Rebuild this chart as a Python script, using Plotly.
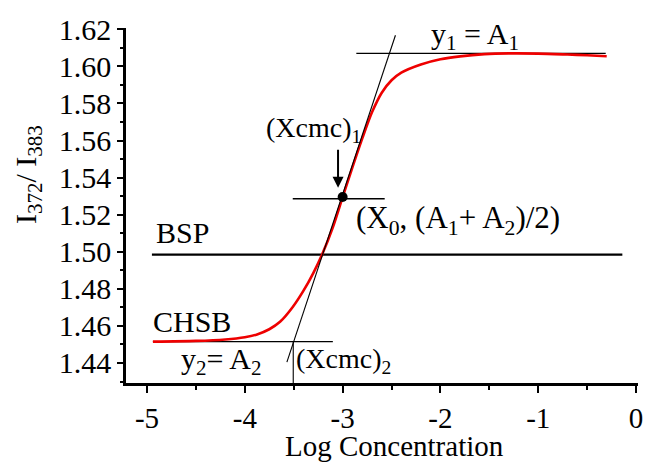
import plotly.graph_objects as go

# ---- data ----
log_conc = [-4.94, -4.5, -4.2, -4.0, -3.875, -3.75, -3.64, -3.51, -3.4, -3.3, -3.21, -3.1,
            -3.0, -2.9, -2.8, -2.7, -2.6, -2.5, -2.4, -2.2, -2.0, -1.8, -1.55, -1.3,
            -1.0, -0.7, -0.5, -0.3]
ratio = [1.4515, 1.4519, 1.4527, 1.4539, 1.4554, 1.4582, 1.4622, 1.4702, 1.4790, 1.4885,
         1.4985, 1.5132, 1.5295, 1.5455, 1.5610, 1.5752, 1.5858, 1.5925, 1.5966, 1.6010,
         1.6038, 1.6054, 1.6066, 1.6070, 1.6069, 1.6064, 1.6060, 1.6055]

a1_line_x = [-2.86, -0.31]
a1_line_y = [1.607, 1.607]
a2_line_x = [-4.94, -3.10]
a2_line_y = [1.4515, 1.4515]
bsp_line_x = [-4.95, -0.14]
bsp_line_y = [1.4984, 1.4984]
tangent_x = [-3.57, -2.46]
tangent_y = [1.4405, 1.6168]
mid_line_x = [-3.51, -2.57]
mid_line_y = [1.5286, 1.5286]
xcmc2_x = [-3.505, -3.505]
xcmc2_y = [1.4515, 1.4292]
x0_point = [-3.0]
y0_point = [1.5295]
arrow_x = [-3.047, -3.047]
arrow_y = [1.5559, 1.5345]

x_ticks = [-5, -4, -3, -2, -1, 0]
y_ticks = [1.44, 1.46, 1.48, 1.50, 1.52, 1.54, 1.56, 1.58, 1.60, 1.62]

FONT = "Liberation Serif, Times New Roman, serif"

fig = go.Figure()

def seg(xs, ys, w, color="black"):
    fig.add_trace(go.Scatter(x=xs, y=ys, mode="lines",
                             line=dict(color=color, width=w), hoverinfo="skip",
                             showlegend=False))

seg(a1_line_x, a1_line_y, 1.3)
seg(a2_line_x, a2_line_y, 1.3)
seg(bsp_line_x, bsp_line_y, 2.2)
seg(mid_line_x, mid_line_y, 1.3)
seg(xcmc2_x, xcmc2_y, 1.1)
fig.add_trace(go.Scatter(x=log_conc, y=ratio, mode="lines", line=dict(color="#ee0000", width=2.6,
                         shape="spline", smoothing=0.8), showlegend=False))
seg(tangent_x, tangent_y, 1.1)
fig.add_trace(go.Scatter(x=x0_point, y=y0_point, mode="markers",
                         marker=dict(color="black", size=10), showlegend=False))

annotations = [
    dict(x=arrow_x[1], y=arrow_y[1], ax=arrow_x[0], ay=arrow_y[0], xref="x", yref="y",
         axref="x", ayref="y", text="", showarrow=True, arrowhead=2, arrowsize=1.1,
         arrowwidth=2, arrowcolor="black"),
]

def txt(x, y, s, size=30, xanchor="left"):
    annotations.append(dict(x=x, y=y, xref="x", yref="y", text=s, showarrow=False,
                            xanchor=xanchor, yanchor="middle",
                            font=dict(family=FONT, size=size, color="black")))

px_per_x = 97.8
def xd(px):
    return -5 + (px - 147) / px_per_x

def yd(py):
    return 1.44 + (363.3 - py) / 37.1 * 0.02

txt(xd(429), yd(36), "y<sub>1</sub> = A<sub>1</sub>", 30)
txt(xd(264), yd(130), "(Xcmc)<sub>1</sub>", 28)
txt(xd(354), yd(220), "(X<sub>0</sub>, (A<sub>1</sub>+ A<sub>2</sub>)/2)", 31)
txt(xd(154), yd(233), "BSP", 30)
txt(xd(151), yd(322), "CHSB", 30)
txt(xd(179), yd(361), "y<sub>2</sub>= A<sub>2</sub>", 30)
txt(xd(294), yd(361), "(Xcmc)<sub>2</sub>", 28)

annotations.append(dict(x=(394 - 126) / 512, y=(383 - 446) / 355, xref="paper", yref="paper",
                        text="Log Concentration", showarrow=False, xanchor="center",
                        yanchor="middle", font=dict(family=FONT, size=29, color="black")))
annotations.append(dict(x=(28 - 126) / 512, y=(383 - 175) / 355, xref="paper", yref="paper",
                        text="I<sub>372</sub>/ I<sub>383</sub>", textangle=-90, showarrow=False,
                        xanchor="center", yanchor="middle",
                        font=dict(family=FONT, size=30, color="black")))

fig.update_layout(
    template="none",
    width=648, height=463,
    margin=dict(l=126, r=10, t=28, b=80, autoexpand=False),
    paper_bgcolor="white", plot_bgcolor="white",
    annotations=annotations,
    font=dict(family=FONT, color="black"),
)
fig.update_xaxes(range=[-5.215, 0.02], tickvals=x_ticks, ticktext=[str(v) for v in x_ticks],
                 automargin=False,
                 showgrid=False, zeroline=False, showline=True, linecolor="black", linewidth=2.5,
                 ticks="outside", ticklen=7, tickwidth=2, tickcolor="black",
                 tickfont=dict(family=FONT, size=29, color="black"),
                 minor=dict(tickvals=[-4.5, -3.5, -2.5, -1.5, -0.5], ticks="outside",
                            ticklen=4, tickwidth=2, tickcolor="black"))
fig.update_yaxes(range=[1.4292, 1.6207], tickvals=y_ticks, ticktext=[f"{v:.2f}" for v in y_ticks],
                 automargin=False,
                 showgrid=False, zeroline=False, showline=True, linecolor="black", linewidth=2.5,
                 ticks="outside", ticklen=6, tickwidth=2, tickcolor="black",
                 tickfont=dict(family=FONT, size=30, color="black"),
                 minor=dict(tickvals=[1.43, 1.45, 1.47, 1.49, 1.51, 1.53, 1.55, 1.57, 1.59, 1.61],
                            ticks="outside", ticklen=3, tickwidth=2, tickcolor="black"))

fig.write_html("out.html", config={"displayModeBar": False},
               post_script="document.body.style.margin='0';document.body.style.overflow='hidden';")
